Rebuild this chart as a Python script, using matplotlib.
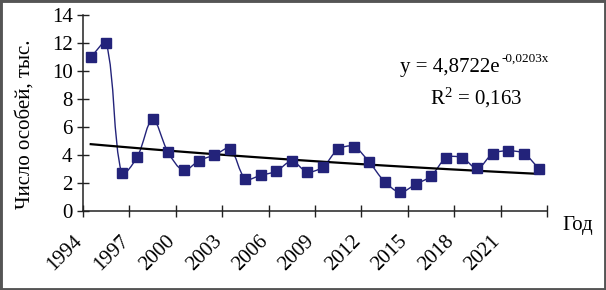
import matplotlib
matplotlib.use('Agg')
import matplotlib.pyplot as plt
import matplotlib.transforms as mtransforms
import numpy as np
from matplotlib.path import Path
from matplotlib.patches import PathPatch, Rectangle

plt.rcParams['font.family'] = ['Liberation Serif', 'DejaVu Serif']
plt.rcParams['mathtext.default'] = 'regular'

# data
years = list(range(1994, 2024))
counts = [11.0, 12.0, 2.7, 3.85, 6.55, 4.2, 2.9, 3.6, 4.0, 4.45,
          2.3, 2.55, 2.85, 3.55, 2.8, 3.15, 4.4, 4.6, 3.5, 2.1,
          1.35, 1.9, 2.5, 3.8, 3.8, 3.05, 4.1, 4.3, 4.1, 3.0]
label_years = [1994, 1997, 2000, 2003, 2006, 2009, 2012, 2015, 2018, 2021]
y_ticks = [0, 2, 4, 6, 8, 10, 12, 14]

# exponential trend shown on the chart
trend_a = 4.8722
trend_b = -0.0203

navy = '#23237a'

fig = plt.figure(figsize=(6.06, 2.90), dpi=100, facecolor='white')
ax = fig.add_axes([83/606, 1-211/290, 464/606, 196/290])

xi = np.arange(len(years))
yv = np.array(counts, dtype=float)

# smoothed line: bezier segments, tangents weighted by chord length on screen
sx, sy = 464 / len(years), 196 / 14.0   # px per category / per unit
P = np.column_stack([xi * sx, yv * sy])
n = len(P)
def chord(a, b):
    return np.hypot(*(P[b] - P[a]))
verts = [(xi[0], yv[0])]
codes = [Path.MOVETO]
for i in range(n - 1):
    i0, i3 = max(i - 1, 0), min(i + 2, n - 1)
    d01, d12, d23 = chord(i0, i), chord(i, i + 1), chord(i + 1, i3)
    c1 = P[i] + (P[i + 1] - P[i0]) * d12 / (3 * (d01 + d12)) if i > 0 else P[i] + (P[i + 1] - P[i]) / 3
    c2 = P[i + 1] - (P[i3] - P[i]) * d12 / (3 * (d12 + d23)) if i + 1 < n - 1 else P[i + 1] - (P[i + 1] - P[i]) / 3
    for c in (c1, c2, P[i + 1]):
        verts.append((c[0] / sx, c[1] / sy))
    codes += [Path.CURVE4] * 3
ax.add_patch(PathPatch(Path(verts, codes), facecolor='none', edgecolor=navy, lw=1.0, zorder=2))
ax.plot(xi, yv, ls='none', marker='s', ms=6.5, color=navy, zorder=4)

# trend line (Excel numbers categories from 1)
trend = trend_a * np.exp(trend_b * (xi + 1))
ax.plot(xi, trend, color='black', lw=1.6, zorder=3)

ax.set_xlim(-0.5, len(years) - 0.5)
ax.set_ylim(0, 14)
ax.set_yticks(y_ticks)
ax.set_yticklabels([str(v) for v in y_ticks], fontsize=15)

ax.set_xticks(np.arange(-0.5, len(years), 3))
ax.set_xticklabels([])
lab_pos = [years.index(y) for y in label_years]
ax.set_xticks(lab_pos, minor=True)
ax.set_xticklabels([str(y) for y in label_years], minor=True, fontsize=15,
                   rotation=45, ha='right', va='center', rotation_mode='anchor')
ax.tick_params(axis='x', which='minor', length=0, pad=20)
offset = mtransforms.ScaledTranslation(-11/100, 0, fig.dpi_scale_trans)
for lab in ax.get_xticklabels(minor=True):
    lab.set_transform(lab.get_transform() + offset)

ax.tick_params(axis='both', which='major', direction='inout', length=9, width=1, color='#222222')
ax.tick_params(axis='y', pad=3)

for s in ['top', 'right']:
    ax.spines[s].set_visible(False)
for s in ['left', 'bottom']:
    ax.spines[s].set_linewidth(1.1)
    ax.spines[s].set_color('#222222')

ax.set_ylabel('Число особей, тыс.', fontsize=15, va='center')
ax.yaxis.set_label_coords(-0.125, 0.444)

fig.text(562/606, 1-230/290, 'Год', fontsize=15, ha='left', va='baseline')
fig.text(400/606, 1-72/290, 'y = 4,8722e', fontsize=15, ha='left', va='baseline')
fig.text(502/606, 1-62/290, '-0,0203x', fontsize=9.5, ha='left', va='baseline')
fig.text(430/606, 1-104/290, 'R$^{2}$ = 0,163', fontsize=15, ha='left', va='baseline')

fig.patches.append(Rectangle((0, 0), 1, 1, transform=fig.transFigure, fill=False,
                             edgecolor='#555555', lw=3.5, clip_on=False))

fig.savefig('out.png', dpi=100, facecolor='white')
